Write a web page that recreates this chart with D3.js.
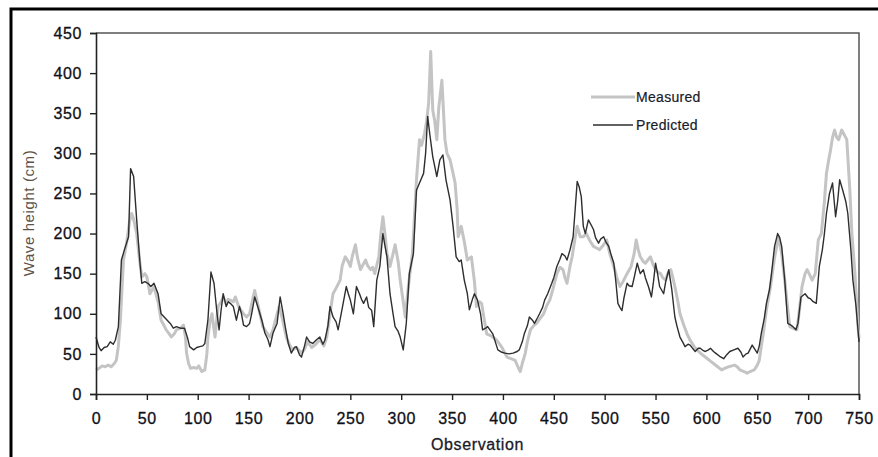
<!DOCTYPE html>
<html>
<head>
<meta charset="utf-8">
<script src="https://cdn.jsdelivr.net/npm/d3@7"></script>
<style>
  body { margin: 0; background: #fff; }
  svg text { font-family: "Liberation Sans", Arial, sans-serif; }
</style>
</head>
<body>
<div id="canvas"></div>
<script>
// observation index / wave height (cm)
const measuredObs = [0,3,6,9,12,15,18,20,22,24,27,30,33,35,37,40,43,45,48,50,53,57,61,64,67,69,72,74,77,79,83,86,88,89,91,93,96,99,101,104,107,109,110,112,114,117,120,123,125,128,130,132,135,137,140,142,145,148,151,154,156,159,162,164,167,171,174,177,180,183,187,190,193,197,202,205,208,212,216,220,224,227,230,233,236,240,242,245,248,250,252,255,257,260,262,265,267,270,272,274,278,280,282,284,286,289,292,294,297,299,302,304,307,311,313,315,318,320,323,325,327,329,331,333,335,337,340,343,345,348,351,353,355,356,359,362,365,369,372,374,377,379,382,384,389,394,399,404,408,412,415,417,419,422,424,427,430,433,437,440,443,446,449,453,456,459,461,463,466,468,471,473,476,479,482,485,489,492,495,499,502,505,509,512,515,518,522,526,529,531,533,535,538,540,543,545,548,550,552,555,557,560,562,565,567,569,572,574,578,581,584,588,591,594,597,601,604,607,611,615,618,622,625,628,631,633,637,640,643,647,650,652,654,656,659,663,667,671,674,677,680,682,685,689,691,694,697,699,701,704,707,710,713,716,718,720,722,724,726,728,730,733,736,738,741,743,746,749,750];
const measuredVals = [30,32,35,34,36,34,38,42,60,92,167,188,215,225,218,200,165,146,150,146,125,134,115,92,85,80,75,71,75,80,82,86,70,51,38,32,33,32,35,28,30,50,71,90,100,71,109,115,121,113,118,117,115,121,110,105,100,96,100,118,129,112,95,84,78,71,80,95,109,95,71,62,55,58,51,56,65,58,62,68,60,72,100,125,132,142,160,171,165,159,172,186,170,155,160,167,160,155,158,150,171,200,221,200,175,159,175,186,165,142,115,96,134,175,220,267,317,310,325,340,363,427,354,340,317,358,391,317,300,292,275,263,230,196,209,190,167,171,140,109,115,113,90,75,72,67,58,46,44,42,33,28,38,51,65,80,85,88,95,100,110,117,130,150,158,155,145,138,160,171,195,209,196,196,200,192,184,182,180,186,192,175,159,145,134,140,150,159,175,192,180,171,165,163,168,171,160,155,152,150,145,142,150,155,145,134,115,100,85,75,67,59,55,51,48,44,41,38,34,30,32,34,35,36,33,30,28,26,28,30,36,42,60,76,105,134,170,196,175,142,105,84,82,80,100,134,150,155,150,142,150,192,200,240,275,290,304,320,329,320,317,329,322,317,254,200,150,84,70];

const predictedObs = [0,3,5,8,11,14,17,19,22,25,28,32,34,37,40,43,45,48,51,54,57,61,64,67,70,73,76,79,83,87,90,92,96,99,102,105,107,110,113,116,119,121,123,125,128,130,132,135,138,141,143,145,148,151,153,156,159,163,166,169,171,174,178,181,184,186,189,192,195,197,200,202,205,207,210,213,217,220,223,225,228,230,233,236,238,241,244,246,248,250,253,256,259,261,263,266,268,271,273,276,279,282,284,286,289,292,294,297,299,302,305,308,312,315,318,322,324,326,328,331,335,338,341,344,348,351,354,357,359,362,365,367,370,372,375,378,380,383,385,390,395,399,402,406,410,414,416,419,421,424,426,429,431,434,436,439,441,444,448,450,453,456,458,461,463,466,469,471,473,475,477,479,481,484,487,489,491,494,496,499,501,504,506,509,511,513,515,517,519,522,524,527,529,532,535,538,540,543,546,548,550,552,554,558,560,563,566,569,571,574,577,579,582,584,587,589,592,594,597,599,602,604,607,609,613,617,620,623,627,631,634,636,639,641,645,648,650,652,654,657,659,662,664,667,670,672,674,677,680,683,685,688,690,693,697,700,702,705,708,711,714,716,718,721,724,727,729,731,734,737,739,742,744,747,750];
const predictedVals = [71,58,54,58,59,65,62,67,84,167,180,196,281,271,217,167,138,140,138,134,138,125,100,96,92,88,82,84,82,82,70,59,55,58,59,60,63,92,152,138,100,80,105,125,109,115,113,109,92,109,100,86,84,88,100,121,109,92,76,68,59,76,88,121,100,84,63,51,58,59,49,46,60,71,65,63,68,71,62,67,85,109,96,90,80,100,120,134,125,117,100,134,125,118,113,121,108,104,84,142,159,200,185,171,125,100,84,78,71,55,88,150,175,254,263,275,300,346,325,296,271,292,298,267,242,209,171,165,167,142,125,105,118,125,117,100,80,82,84,75,55,52,51,50,51,53,55,65,75,85,96,92,88,95,100,108,117,125,138,145,159,168,175,172,167,180,196,230,265,258,246,209,200,217,210,205,195,188,193,196,190,184,175,163,140,113,108,104,120,138,135,134,145,163,150,155,145,134,121,140,163,150,134,125,140,155,130,96,85,71,64,59,62,61,56,53,57,57,54,53,55,57,53,51,47,44,49,53,55,57,52,46,50,51,61,55,51,60,76,95,113,130,150,184,200,195,184,142,88,86,84,80,88,121,125,120,119,115,113,159,180,200,225,250,263,221,240,267,254,240,225,180,142,110,65];

const xTicks = d3.range(0, 751, 50);
const yTicks = d3.range(0, 451, 50);
const seriesNames = ["Measured", "Predicted"];

const width = 878;
const height = 457;
const margin = { top: 33, left: 96, bottom: 63, right: 19 };
const iwidth = width - margin.left - margin.right;
const iheight = height - margin.top - margin.bottom;

const svg = d3.select("#canvas").append("svg")
    .attr("width", width)
    .attr("height", height);

// outer frame of the figure (only top and left visible)
svg.append("path")
    .attr("d", `M11,${height} V9 H${width}`)
    .attr("fill", "none")
    .attr("stroke", "#000")
    .attr("stroke-width", 3);

const g = svg.append("g").attr("transform", `translate(${margin.left},${margin.top})`);

const x = d3.scaleLinear().domain([0, 750]).range([0, iwidth]);
const y = d3.scaleLinear().domain([0, 450]).range([iheight, 0]);

// plot box, top and right
g.append("path")
    .attr("d", `M0,0 H${iwidth} V${iheight}`)
    .attr("fill", "none")
    .attr("stroke", "#555")
    .attr("stroke-width", 1.5);

const line = d3.line().x(d => x(d[0])).y(d => y(d[1]));

const measured = measuredObs.map((o, i) => [o, measuredVals[i]]);
const predicted = predictedObs.map((o, i) => [o, predictedVals[i]]);

g.append("path")
    .datum(measured)
    .attr("d", line)
    .attr("fill", "none")
    .attr("stroke", "#c4c4c4")
    .attr("stroke-width", 3)
    .attr("stroke-linejoin", "round");

g.append("path")
    .datum(predicted)
    .attr("d", line)
    .attr("fill", "none")
    .attr("stroke", "#2e2e2e")
    .attr("stroke-width", 1.4)
    .attr("stroke-linejoin", "round");

const xAxis = g.append("g")
    .attr("transform", `translate(0, ${iheight})`)
    .call(d3.axisBottom(x).tickValues(xTicks).tickSize(6).tickPadding(13));

const yAxis = g.append("g")
    .call(d3.axisLeft(y).tickValues(yTicks).tickSize(6).tickPadding(8));

[xAxis, yAxis].forEach(a => {
    a.select(".domain").attr("stroke", "#222").attr("stroke-width", 1.6);
    a.selectAll(".tick line").attr("stroke", "#222").attr("stroke-width", 1.4);
    a.selectAll("text")
        .attr("font-family", "Liberation Sans, Arial, sans-serif")
        .attr("font-size", 16)
        .attr("letter-spacing", 0.6)
        .attr("fill", "#101018")
        .attr("stroke", "#101018")
        .attr("stroke-width", 0.3);
});

svg.append("text")
    .attr("x", margin.left + iwidth / 2)
    .attr("y", 450)
    .attr("text-anchor", "middle")
    .attr("font-size", 16)
    .attr("letter-spacing", 0.6)
    .attr("fill", "#1a1a2a")
    .attr("stroke", "#1a1a2a")
    .attr("stroke-width", 0.3)
    .text("Observation");

svg.append("text")
    .attr("transform", `translate(34, 213) rotate(-90)`)
    .attr("text-anchor", "middle")
    .attr("font-size", 15)
    .attr("letter-spacing", 0.6)
    .attr("fill", "#5e5248")
    .text("Wave height (cm)");

// legend
const legend = svg.append("g").attr("transform", "translate(591, 97)");
const legendStyles = [
    { stroke: "#c4c4c4", width: 3, x0: 0, x1: 44 },
    { stroke: "#2e2e2e", width: 1.4, x0: 2, x1: 42 }
];
seriesNames.forEach((name, i) => {
    const row = legend.append("g").attr("transform", `translate(0, ${i * 28})`);
    row.append("line")
        .attr("x1", legendStyles[i].x0).attr("x2", legendStyles[i].x1)
        .attr("y1", 0).attr("y2", 0)
        .attr("stroke", legendStyles[i].stroke)
        .attr("stroke-width", legendStyles[i].width);
    row.append("text")
        .attr("x", 45)
        .attr("y", 5)
        .attr("font-size", 14)
        .attr("letter-spacing", 0.3)
        .attr("fill", "#1a1a2a")
        .attr("stroke", "#1a1a2a")
        .attr("stroke-width", 0.2)
        .text(name);
});
</script>
</body>
</html>
